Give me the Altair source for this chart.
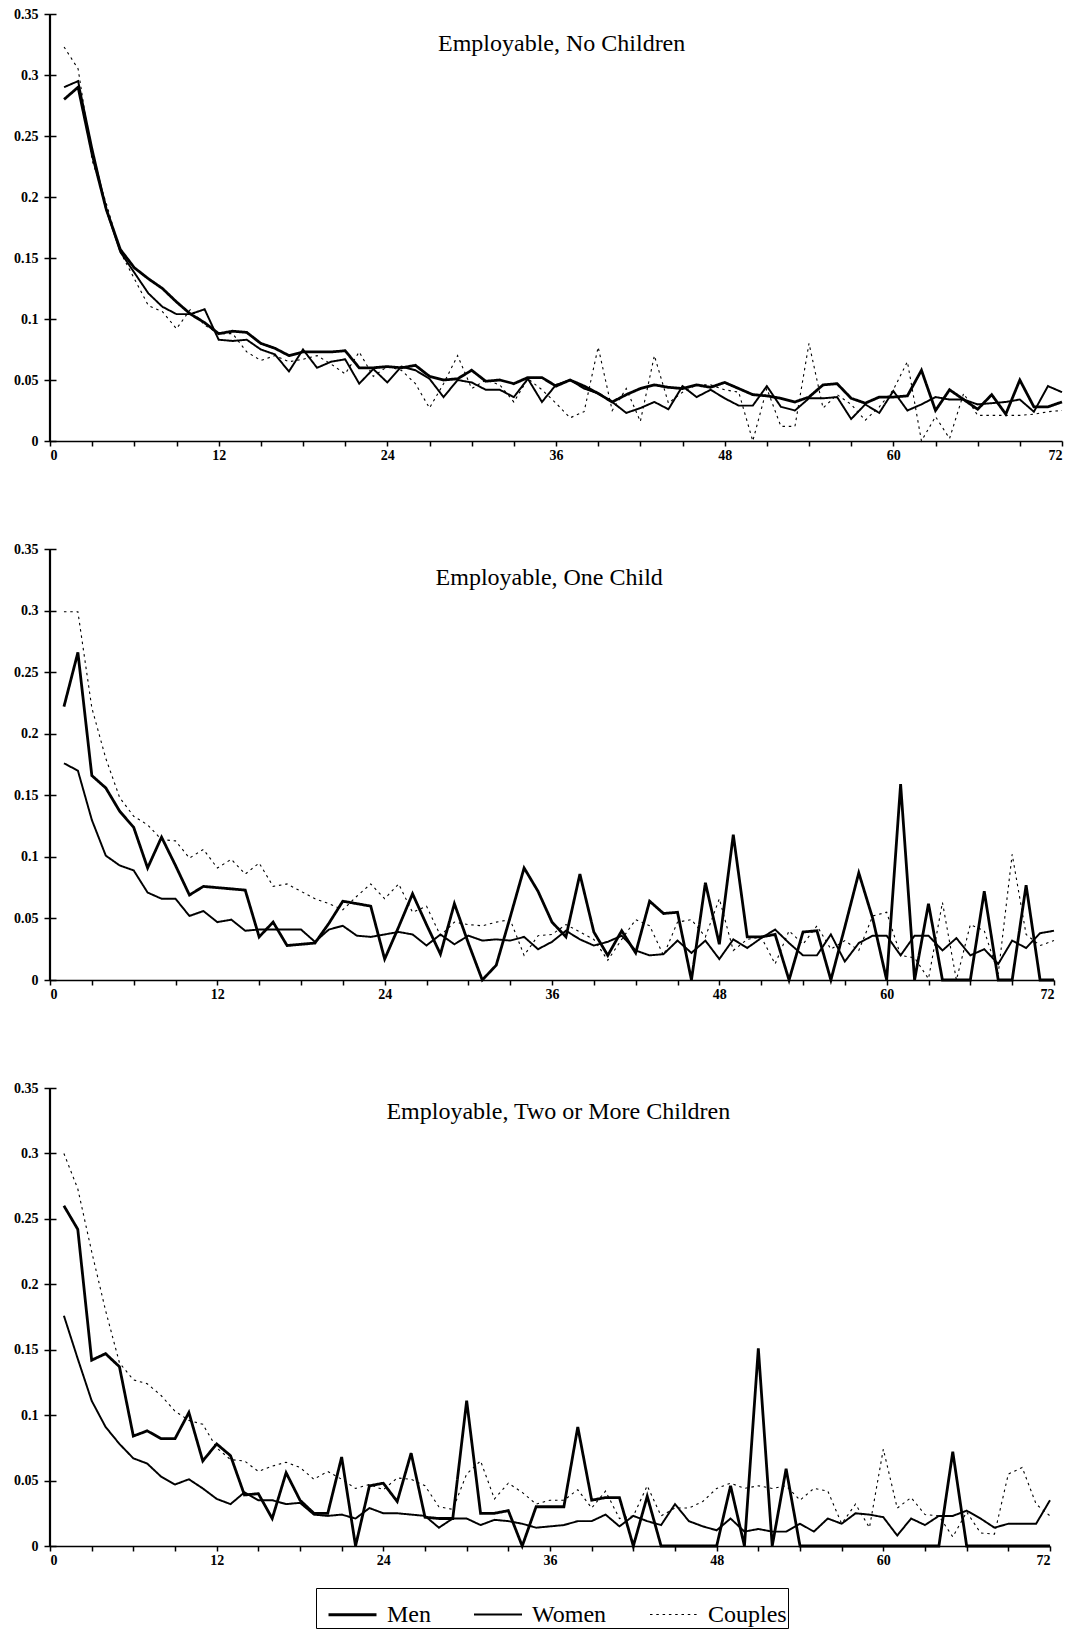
import altair as alt
import pandas as pd

months = list(range(1, 73))
series = ["Men", "Women", "Couples"]
titles = ["Employable, No Children", "Employable, One Child",
          "Employable, Two or More Children"]
y_ticks = [0, 0.05, 0.1, 0.15, 0.2, 0.25, 0.3, 0.35]
x_ticks = list(range(0, 73, 3))

# ---- Panel 1: Employable, No Children ----
p1_men = [0.280, 0.290, 0.235, 0.190, 0.157, 0.142, 0.133, 0.125, 0.114, 0.104, 0.097, 0.088,
          0.090, 0.089, 0.080, 0.076, 0.070, 0.073, 0.073, 0.073, 0.074, 0.060, 0.060, 0.061,
          0.060, 0.062, 0.053, 0.050, 0.051, 0.058, 0.049, 0.050, 0.047, 0.052, 0.052, 0.045,
          0.050, 0.045, 0.039, 0.032, 0.038, 0.043, 0.046, 0.044, 0.043, 0.046, 0.044, 0.048,
          0.043, 0.038, 0.037, 0.035, 0.032, 0.036, 0.046, 0.047, 0.035, 0.031, 0.036, 0.036,
          0.037, 0.058, 0.025, 0.042, 0.034, 0.026, 0.038, 0.022, 0.050, 0.028, 0.028, 0.032]
p1_women = [0.290, 0.295, 0.240, 0.190, 0.155, 0.138, 0.121, 0.110, 0.104, 0.104, 0.108, 0.083,
            0.082, 0.083, 0.075, 0.071, 0.057, 0.075, 0.060, 0.065, 0.067, 0.047, 0.059, 0.048,
            0.061, 0.058, 0.051, 0.036, 0.050, 0.048, 0.042, 0.042, 0.036, 0.051, 0.032, 0.046,
            0.050, 0.043, 0.039, 0.032, 0.023, 0.027, 0.032, 0.026, 0.045, 0.036, 0.042, 0.035,
            0.029, 0.029, 0.045, 0.028, 0.025, 0.035, 0.035, 0.036, 0.018, 0.030, 0.023, 0.041,
            0.025, 0.030, 0.036, 0.034, 0.034, 0.030, 0.031, 0.032, 0.034, 0.024, 0.045, 0.040]
p1_couples = [0.323, 0.305, 0.230, 0.195, 0.155, 0.133, 0.111, 0.106, 0.092, 0.108, 0.095, 0.088,
              0.088, 0.073, 0.066, 0.070, 0.065, 0.067, 0.070, 0.063, 0.055, 0.073, 0.053, 0.061,
              0.058, 0.047, 0.027, 0.047, 0.070, 0.043, 0.050, 0.046, 0.032, 0.051, 0.042, 0.031,
              0.019, 0.024, 0.077, 0.025, 0.043, 0.016, 0.070, 0.031, 0.040, 0.046, 0.046, 0.042,
              0.040, 0.000, 0.043, 0.012, 0.012, 0.080, 0.027, 0.038, 0.030, 0.017, 0.028, 0.042,
              0.065, 0.000, 0.020, 0.002, 0.039, 0.021, 0.021, 0.021, 0.021, 0.022, 0.024, 0.025]

# ---- Panel 2: Employable, One Child ----
p2_men = [0.222, 0.266, 0.166, 0.156, 0.137, 0.124, 0.091, 0.116, 0.093, 0.069, 0.076, 0.075,
          0.074, 0.073, 0.035, 0.047, 0.028, 0.029, 0.030, 0.046, 0.064, 0.062, 0.060, 0.017,
          0.043, 0.070, 0.045, 0.021, 0.062, 0.030, 0.000, 0.012, 0.051, 0.091, 0.072, 0.047,
          0.035, 0.086, 0.039, 0.020, 0.040, 0.022, 0.064, 0.054, 0.055, 0.000, 0.079, 0.029,
          0.118, 0.035, 0.035, 0.037, 0.000, 0.039, 0.040, 0.000, 0.043, 0.087, 0.050, 0.000,
          0.159, 0.000, 0.062, 0.000, 0.000, 0.000, 0.072, 0.000, 0.000, 0.077, 0.000, 0.000]
p2_women = [0.176, 0.170, 0.130, 0.101, 0.093, 0.089, 0.071, 0.066, 0.066, 0.052, 0.056, 0.047,
            0.049, 0.040, 0.041, 0.041, 0.041, 0.041, 0.031, 0.041, 0.044, 0.036, 0.035, 0.037,
            0.039, 0.037, 0.028, 0.037, 0.029, 0.036, 0.032, 0.033, 0.032, 0.035, 0.025, 0.031,
            0.040, 0.033, 0.028, 0.031, 0.036, 0.024, 0.020, 0.021, 0.032, 0.022, 0.032, 0.017,
            0.033, 0.026, 0.034, 0.041, 0.030, 0.020, 0.020, 0.037, 0.015, 0.030, 0.036, 0.036,
            0.020, 0.036, 0.036, 0.024, 0.034, 0.020, 0.025, 0.013, 0.032, 0.026, 0.038, 0.040]
p2_couples = [0.299, 0.299, 0.221, 0.180, 0.148, 0.133, 0.126, 0.114, 0.113, 0.099, 0.106, 0.091,
              0.098, 0.086, 0.095, 0.076, 0.078, 0.072, 0.066, 0.062, 0.057, 0.068, 0.078, 0.066,
              0.078, 0.055, 0.060, 0.036, 0.047, 0.045, 0.044, 0.047, 0.049, 0.020, 0.036, 0.037,
              0.045, 0.039, 0.033, 0.016, 0.033, 0.049, 0.044, 0.020, 0.047, 0.049, 0.035, 0.066,
              0.024, 0.033, 0.035, 0.013, 0.040, 0.029, 0.044, 0.025, 0.032, 0.024, 0.052, 0.055,
              0.020, 0.018, 0.001, 0.063, 0.000, 0.045, 0.040, 0.005, 0.102, 0.037, 0.028, 0.032]

# ---- Panel 3: Employable, Two or More Children ----
p3_men = [0.260, 0.242, 0.142, 0.147, 0.137, 0.084, 0.088, 0.082, 0.082, 0.102, 0.065, 0.078,
          0.069, 0.039, 0.040, 0.021, 0.056, 0.035, 0.025, 0.025, 0.068, 0.000, 0.046, 0.048,
          0.034, 0.071, 0.022, 0.021, 0.021, 0.111, 0.025, 0.025, 0.027, 0.000, 0.030, 0.030,
          0.030, 0.091, 0.035, 0.037, 0.037, 0.000, 0.038, 0.000, 0.000, 0.000, 0.000, 0.000,
          0.046, 0.000, 0.151, 0.000, 0.059, 0.000, 0.000, 0.000, 0.000, 0.000, 0.000, 0.000,
          0.000, 0.000, 0.000, 0.000, 0.072, 0.000, 0.000, 0.000, 0.000, 0.000, 0.000, 0.000]
p3_women = [0.176, 0.143, 0.111, 0.091, 0.078, 0.067, 0.063, 0.053, 0.047, 0.051, 0.044, 0.036,
            0.032, 0.041, 0.035, 0.035, 0.032, 0.033, 0.024, 0.023, 0.024, 0.021, 0.029, 0.025,
            0.025, 0.024, 0.023, 0.014, 0.021, 0.021, 0.016, 0.020, 0.019, 0.017, 0.014, 0.015,
            0.016, 0.019, 0.019, 0.024, 0.015, 0.023, 0.019, 0.016, 0.032, 0.019, 0.015, 0.012,
            0.021, 0.011, 0.013, 0.011, 0.011, 0.017, 0.011, 0.021, 0.017, 0.025, 0.024, 0.022,
            0.008, 0.021, 0.016, 0.023, 0.023, 0.027, 0.021, 0.014, 0.017, 0.017, 0.017, 0.035]
p3_couples = [0.300, 0.273, 0.225, 0.180, 0.140, 0.127, 0.124, 0.115, 0.103, 0.096, 0.093, 0.075,
              0.066, 0.065, 0.057, 0.061, 0.064, 0.060, 0.051, 0.057, 0.051, 0.044, 0.047, 0.043,
              0.052, 0.051, 0.046, 0.030, 0.028, 0.055, 0.065, 0.036, 0.048, 0.041, 0.032, 0.035,
              0.035, 0.043, 0.029, 0.042, 0.021, 0.023, 0.046, 0.023, 0.029, 0.029, 0.034, 0.044,
              0.048, 0.044, 0.046, 0.044, 0.046, 0.035, 0.044, 0.042, 0.017, 0.032, 0.014, 0.074,
              0.029, 0.037, 0.024, 0.023, 0.007, 0.026, 0.010, 0.009, 0.055, 0.060, 0.032, 0.023]

# title anchor (month, rate) inside each panel
title_month = [36.4, 35.8, 36.6]
title_rate = [0.3254, 0.3265, 0.3318]

FONT = "Liberation Serif"


def panel_df(men, women, couples):
    rows = []
    for name, vals in zip(series, [men, women, couples]):
        for m, v in zip(months, vals):
            rows.append({"month": m, "rate": v, "series": name})
    return pd.DataFrame(rows)


legend = alt.Legend(
    orient="none", legendX=266, legendY=1574, direction="horizontal", title=None,
    symbolType="stroke", symbolSize=2304, symbolStrokeColor="black", symbolOffset=10,
    labelFont=FONT, labelFontSize=24, labelColor="black", labelOffset=9,
    columnPadding=32, strokeColor="black", padding=1, fillColor="white",
)

X_SCALE = alt.Scale(domain=[0, 72], nice=False, zero=False)
Y_SCALE = alt.Scale(domain=[0, 0.35], nice=False)


def panel(i, men, women, couples, w, h):
    df = panel_df(men, women, couples)
    lines = alt.Chart(df).mark_line(color="black").encode(
        x=alt.X("month:Q", title=None, scale=X_SCALE,
                axis=alt.Axis(values=x_ticks, tickSize=5, labelPadding=2,
                              labelExpr="datum.value % 12 == 0 ? datum.label : ''")),
        y=alt.Y("rate:Q", title=None, scale=Y_SCALE,
                axis=alt.Axis(values=y_ticks, format=".2~f", tickSize=12, offset=-6,
                              labelPadding=6, domain=False)),
        strokeDash=alt.StrokeDash("series:N",
                                  scale=alt.Scale(domain=series, range=[[1, 0], [1, 0], [2.5, 3.8]]),
                                  legend=legend),
        strokeWidth=alt.StrokeWidth("series:N",
                                    scale=alt.Scale(domain=series, range=[2.8, 1.1, 2.8]),
                                    legend=legend),
        order=alt.Order("month:Q"),
    )
    # vertical axis line at month 0
    yline = alt.Chart(pd.DataFrame({"m": [0]})).mark_rule(color="black", strokeWidth=2.2).encode(
        x=alt.X("m:Q", scale=X_SCALE),
        y=alt.Y(datum=0),
        y2=alt.Y2(datum=0.35),
    )
    ttl = alt.Chart(pd.DataFrame({"label": [titles[i]]})).mark_text(
        font=FONT, fontSize=24, color="black", baseline="middle", align="center"
    ).encode(
        text="label:N",
        x=alt.X(datum=title_month[i]),
        y=alt.Y(datum=title_rate[i]),
    )
    return alt.layer(lines, yline, ttl).properties(width=w, height=h)


c1 = panel(0, p1_men, p1_women, p1_couples, 1012, 427)
c2 = panel(1, p2_men, p2_women, p2_couples, 1004, 431)
c3 = panel(2, p3_men, p3_women, p3_couples, 1000, 458)

chart = alt.vconcat(c1, c2, c3, spacing=80).properties(
    padding={"left": 13, "top": 7, "right": 5, "bottom": 0},
    background="white",
).configure_view(stroke=None).configure_axis(
    grid=False, domainColor="black", domainWidth=1.5, tickColor="black", tickWidth=1.5,
    labelColor="black", labelFont=FONT, labelFontWeight="bold", labelFontSize=14,
)

chart.save("out.html", embed_options={"renderer": "svg", "actions": False})
